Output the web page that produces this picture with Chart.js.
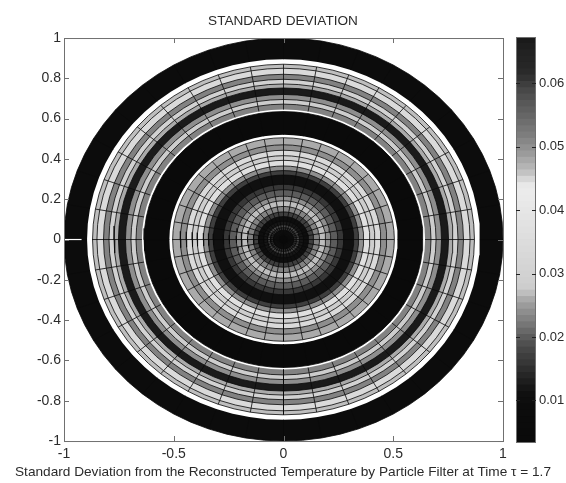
<!DOCTYPE html>
<html>
<head>
<meta charset="utf-8">
<title>Standard deviation</title>
<script src="https://cdn.jsdelivr.net/npm/chart.js@4/dist/chart.umd.min.js"></script>
<style>
  html, body { margin: 0; padding: 0; background: #fff; overflow: hidden; }
  #wrap { position: relative; width: 566px; height: 483px; }
  canvas { position: absolute; top: 0; }
  #mesh { left: 0; }
  #bar { left: 490px; }
</style>
</head>
<body>
<div id="wrap">
  <canvas id="mesh" width="566" height="483"></canvas>
  <canvas id="bar" width="76" height="483"></canvas>
</div>
<script>
// ring outer radius, inner to outer
const ringOuter = [0.018, 0.046, 0.059, 0.073, 0.091, 0.114, 0.137, 0.164, 0.192, 0.215,
  0.247, 0.274, 0.32, 0.342, 0.365, 0.393, 0.416, 0.443, 0.47, 0.505, 0.52,
  0.635, 0.645, 0.672, 0.695, 0.72, 0.752, 0.772, 0.795, 0.82, 0.85, 0.87, 0.895, 1];
// std deviation per ring, null = no data (white gap)
const ringValue = [0.0036, 0.0112, 0.0154, 0.0184, 0.0124, 0.0095, 0.0174, 0.0233, 0.0268, 0.024,
  0.0204, 0.0164, 0.0114, 0.0174, 0.024, 0.0373, 0.0274, 0.0343, 0.024, 0.0254, null,
  0.0036, null, 0.0233, 0.0275, 0.024, 0.0665, 0.0263, 0.0294, 0.0233, 0.0343, 0.0268, null, 0.0084];

// colormap, one gray per band, bottom to top of the colorbar
const cmapGrays = [10, 10, 11, 11, 12, 12, 14, 16, 22, 30, 38, 46, 55, 62, 70, 80,
  92, 105, 118, 130, 142, 155, 170, 190, 205, 208, 210, 212, 214, 216, 218, 220,
  222, 224, 226, 228, 230, 232, 234, 235, 232, 215, 195, 180, 168, 155, 145, 135,
  125, 118, 110, 102, 95, 88, 80, 72, 62, 50, 42, 38, 36, 34, 30, 26];
const cbarMin = 0.00344;
const cbarMax = 0.0673;

const xTicks = [-1, -0.5, 0, 0.5, 1];
const yTicks = [-1, -0.8, -0.6, -0.4, -0.2, 0, 0.2, 0.4, 0.6, 0.8, 1];
const cbarTicks = [0.01, 0.02, 0.03, 0.04, 0.05, 0.06];

// radial stretches the spokes run over (they skip the white gaps)
const spokeStart = [0, 0.52, 0.645, 0.895];
const spokeEnd = [0.505, 0.635, 0.87, 1];
const SECTORS = 36;
const RING_VERTS = 72;
// short white spoke in the outer ring on the left
const whiteSpokeX = [-1, -0.92];
const whiteSpokeY = [0, 0];

const titleText = 'STANDARD DEVIATION';
const xLabelText = 'Standard Deviation from the Reconstructed Temperature by Particle Filter at Time τ = 1.7';

const FONT = '"Liberation Sans", Arial, sans-serif';
const TEXT = '#2b2b2b';
const AXIS = '#707070';
const MESH = 'rgba(10,10,10,0.9)';
const bandSize = (cbarMax - cbarMin) / cmapGrays.length;

function grayFor(v) {
  if (v === null) return '#fff';
  const i = Math.min(cmapGrays.length - 1, Math.max(0, Math.floor((v - cbarMin) / bandSize)));
  const g = cmapGrays[i];
  return `rgb(${g},${g},${g})`;
}

// starts on the left so the path seam hides under the white spoke
function circle(r) {
  const pts = [];
  for (let k = 0; k <= RING_VERTS; k++) {
    const a = Math.PI + k / RING_VERTS * 2 * Math.PI;
    pts.push({ x: r * Math.cos(a), y: r * Math.sin(a) });
  }
  return pts;
}

function spokes() {
  const pts = [];
  for (let k = 0; k < SECTORS; k++) {
    const a = k / SECTORS * 2 * Math.PI;
    spokeStart.forEach((r0, i) => {
      pts.push({ x: r0 * Math.cos(a), y: r0 * Math.sin(a) });
      pts.push({ x: spokeEnd[i] * Math.cos(a), y: spokeEnd[i] * Math.sin(a) });
      pts.push({ x: NaN, y: NaN });
    });
  }
  return pts;
}

// inner discs come first so they sit on top of the outer ones
const ringSets = ringOuter.map((r, i) => ({
  data: circle(r),
  showLine: true,
  fill: 'shape',
  tension: 0,
  pointRadius: 0,
  backgroundColor: grayFor(ringValue[i]),
  borderColor: ringValue[i] === null ? 'rgba(0,0,0,0)' : MESH,
  borderWidth: 0.9,
  borderCapStyle: 'round'
}));

const spokeSet = {
  data: spokes(),
  showLine: true,
  spanGaps: false,
  tension: 0,
  pointRadius: 0,
  borderColor: MESH,
  borderWidth: 0.9
};

const whiteSet = {
  data: whiteSpokeX.map((x, i) => ({ x, y: whiteSpokeY[i] })),
  showLine: true,
  tension: 0,
  pointRadius: 0,
  borderColor: '#fff',
  borderWidth: 1.2
};

// matlab style box with ticks pointing inward
const boxTicks = {
  id: 'boxTicks',
  afterDraw(chart) {
    const { ctx, chartArea: a, scales } = chart;
    ctx.save();
    ctx.strokeStyle = AXIS;
    ctx.lineWidth = 1;
    ctx.strokeRect(a.left + 0.5, a.top + 0.5, a.width, a.height);
    ctx.beginPath();
    xTicks.forEach(v => {
      const x = Math.round(scales.x.getPixelForValue(v)) + 0.5;
      ctx.moveTo(x, a.bottom); ctx.lineTo(x, a.bottom - 5);
      ctx.moveTo(x, a.top); ctx.lineTo(x, a.top + 5);
    });
    yTicks.forEach(v => {
      const y = Math.round(scales.y.getPixelForValue(v)) + 0.5;
      ctx.moveTo(a.left, y); ctx.lineTo(a.left + 5, y);
      ctx.moveTo(a.right, y); ctx.lineTo(a.right - 5, y);
    });
    ctx.stroke();
    ctx.restore();
  }
};

const cbarTickMarks = {
  id: 'cbarTickMarks',
  afterDraw(chart) {
    const { ctx, chartArea: a, scales } = chart;
    ctx.save();
    ctx.strokeStyle = AXIS;
    ctx.strokeRect(a.left + 0.5, a.top + 0.5, a.width - 1, a.height);
    ctx.strokeStyle = '#222';
    ctx.beginPath();
    cbarTicks.forEach(v => {
      const y = Math.round(scales.y.getPixelForValue(v)) + 0.5;
      ctx.moveTo(a.left, y); ctx.lineTo(a.left + 4, y);
      ctx.moveTo(a.right, y); ctx.lineTo(a.right - 4, y);
    });
    ctx.stroke();
    ctx.restore();
  }
};

new Chart(document.getElementById('mesh'), {
  type: 'scatter',
  data: { datasets: [whiteSet, spokeSet, ...ringSets] },
  plugins: [boxTicks],
  options: {
    responsive: false,
    animation: false,
    plugins: {
      legend: { display: false },
      tooltip: { enabled: false },
      title: {
        display: true,
        text: titleText,
        color: TEXT,
        font: { family: FONT, size: 13.6, weight: 'normal' },
        padding: { top: 13, bottom: 8.7 }
      },
      subtitle: {
        display: true,
        position: 'bottom',
        text: xLabelText,
        color: TEXT,
        font: { family: FONT, size: 13.65, weight: 'normal' },
        padding: { top: 5, bottom: 2.6 }
      }
    },
    scales: {
      x: {
        type: 'linear',
        min: -1,
        max: 1,
        afterBuildTicks: s => { s.ticks = xTicks.map(value => ({ value })); },
        afterFit: s => { s.height = 18; },
        grid: { display: false, drawTicks: false },
        border: { display: false },
        ticks: {
          color: TEXT,
          font: { family: FONT, size: 14 },
          padding: 5,
          maxRotation: 0,
          callback: v => String(v)
        }
      },
      y: {
        type: 'linear',
        min: -1,
        max: 1,
        afterBuildTicks: s => { s.ticks = yTicks.map(value => ({ value })); },
        afterFit: s => { s.width = 64; },
        grid: { display: false, drawTicks: false },
        border: { display: false },
        ticks: {
          color: TEXT,
          font: { family: FONT, size: 14 },
          padding: 3,
          callback: v => String(v)
        }
      },
      // empty axis that reserves the room taken by the colorbar
      yRight: {
        type: 'linear',
        position: 'right',
        afterFit: s => { s.width = 63; },
        grid: { display: false, drawTicks: false },
        border: { display: false },
        ticks: { display: false }
      }
    }
  }
});

new Chart(document.getElementById('bar'), {
  type: 'bar',
  data: {
    labels: [''],
    datasets: cmapGrays.map((g, i) => ({
      data: [[cbarMin + i * bandSize, cbarMin + (i + 1) * bandSize]],
      backgroundColor: `rgb(${g},${g},${g})`,
      borderWidth: 0,
      inflateAmount: 0.4,
      grouped: false,
      barPercentage: 1,
      categoryPercentage: 1
    }))
  },
  plugins: [cbarTickMarks],
  options: {
    responsive: false,
    animation: false,
    layout: { padding: { left: 26, right: 0, top: 37, bottom: 41 } },
    plugins: { legend: { display: false }, tooltip: { enabled: false } },
    scales: {
      x: { display: false },
      y: {
        position: 'right',
        min: cbarMin,
        max: cbarMax,
        afterBuildTicks: s => { s.ticks = cbarTicks.map(value => ({ value })); },
        afterFit: s => { s.width = 30; },
        grid: { display: false, drawTicks: false },
        border: { display: false },
        ticks: {
          color: TEXT,
          font: { family: FONT, size: 13 },
          padding: 3,
          callback: v => String(v)
        }
      }
    }
  }
});
</script>
</body>
</html>
